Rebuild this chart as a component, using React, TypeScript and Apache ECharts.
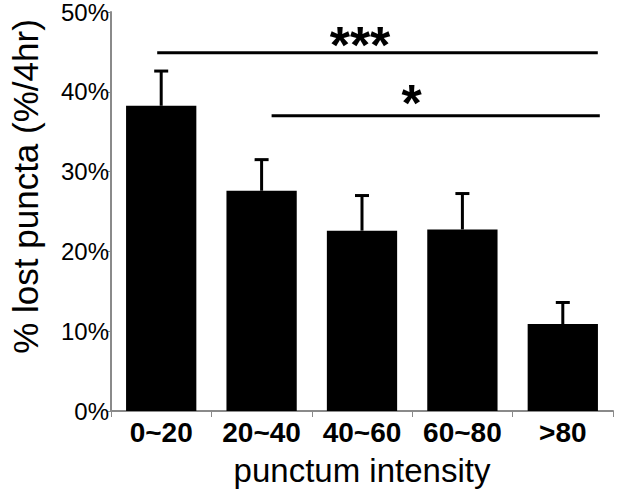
import React, { useEffect, useRef } from "react";
import * as echarts from "echarts";

const categories = ["0~20", "20~40", "40~60", "60~80", ">80"];
const lostPuncta = [38.25, 27.6, 22.6, 22.75, 10.9];
const errorPlus = [4.35, 3.9, 4.4, 4.5, 2.7];
const yTicks = [0, 10, 20, 30, 40, 50];
const sigFrom = [0, 1];
const sigTo = [4, 4];
const sigLevel = [44.9, 37];
const sigLabels = ["***", "*"];

const FONT = "'Liberation Sans', Arial, Helvetica, sans-serif";
// styling offsets (pixels) for significance lines and labels
const sigLineStartOff = [-4, 10];
const sigLineEndOff = [35, 37];
const sigTextOff = [-17.5, -24];
const sigTextDy = [18, 13];

export default function App() {
  const ref = useRef<HTMLDivElement>(null);
  useEffect(() => {
    if (!ref.current) return;
    const chart = echarts.init(ref.current, null, { renderer: "svg" });
    const errData = lostPuncta.map((v, i) => [i, v, v + errorPlus[i]]);
    const sigData = sigFrom.map((f, i) => [f, sigTo[i], sigLevel[i]]);
    chart.setOption({
      animation: false,
      backgroundColor: "#ffffff",
      grid: { left: 86, right: 27, top: 12, bottom: 84, containLabel: false },
      xAxis: {
        type: "category",
        data: categories,
        boundaryGap: true,
        name: "punctum intensity",
        nameLocation: "middle",
        nameGap: 43,
        nameTextStyle: { fontFamily: FONT, fontSize: 33, color: "#000" },
        axisLine: { lineStyle: { color: "#8a8a8a", width: 2 } },
        axisTick: { show: true, length: 6, lineStyle: { color: "#8a8a8a", width: 1 } },
        axisLabel: {
          interval: 0,
          hideOverlap: false,
          fontFamily: FONT,
          fontSize: 28,
          fontWeight: "bold",
          color: "#000",
          margin: 7,
        },
      },
      yAxis: {
        type: "value",
        min: yTicks[0],
        max: yTicks[yTicks.length - 1],
        interval: 10,
        name: "% lost puncta (%/4hr)",
        nameLocation: "middle",
        nameGap: 68,
        nameTextStyle: {
          fontFamily: FONT,
          fontSize: 35,
          color: "#000",
          padding: [0, 0, 0, 50],
        },
        axisLine: { show: true, lineStyle: { color: "#8a8a8a", width: 2 } },
        axisTick: { show: true, length: 4, lineStyle: { color: "#8a8a8a", width: 1 } },
        splitLine: { show: false },
        axisLabel: {
          fontFamily: FONT,
          fontSize: 24,
          color: "#000",
          margin: 2,
          formatter: "{value}%",
        },
      },
      series: [
        {
          type: "bar",
          data: lostPuncta,
          barCategoryGap: "30%",
          itemStyle: { color: "#000" },
          z: 2,
        },
        {
          type: "custom",
          data: errData,
          z: 3,
          encode: { x: 0, y: [1, 2] },
          renderItem: (params: any, api: any) => {
            const x = api.value(0);
            const base = api.coord([x, api.value(1)]);
            const top = api.coord([x, api.value(2)]);
            const half = 7;
            return {
              type: "group",
              children: [
                {
                  type: "line",
                  shape: { x1: base[0], y1: base[1], x2: top[0], y2: top[1] },
                  style: { stroke: "#000", lineWidth: 3 },
                },
                {
                  type: "line",
                  shape: { x1: top[0] - half, y1: top[1], x2: top[0] + half, y2: top[1] },
                  style: { stroke: "#000", lineWidth: 3 },
                },
              ],
            };
          },
        },
        {
          type: "custom",
          data: sigData,
          z: 3,
          encode: { x: [0, 1], y: 2 },
          renderItem: (params: any, api: any) => {
            const i = params.dataIndex;
            const p1 = api.coord([api.value(0), api.value(2)]);
            const p2 = api.coord([api.value(1), api.value(2)]);
            const x1 = p1[0] + sigLineStartOff[i];
            const x2 = p2[0] + sigLineEndOff[i];
            const cx = (x1 + x2) / 2 + sigTextOff[i];
            return {
              type: "group",
              children: [
                {
                  type: "line",
                  shape: { x1, y1: p1[1], x2, y2: p1[1] },
                  style: { stroke: "#000", lineWidth: 3 },
                },
                {
                  type: "text",
                  x: cx,
                  y: p1[1] + sigTextDy[i],
                  style: {
                    text: sigLabels[i],
                    fontFamily: FONT,
                    fontSize: 52,
                    fontWeight: "bold",
                    fill: "#000",
                    align: "center",
                    verticalAlign: "bottom",
                  },
                },
              ],
            };
          },
        },
      ],
    });
    return () => chart.dispose();
  }, []);
  return (
    <div
      ref={ref}
      style={{ position: "fixed", left: 0, top: 0, width: 640, height: 495 }}
    />
  );
}
